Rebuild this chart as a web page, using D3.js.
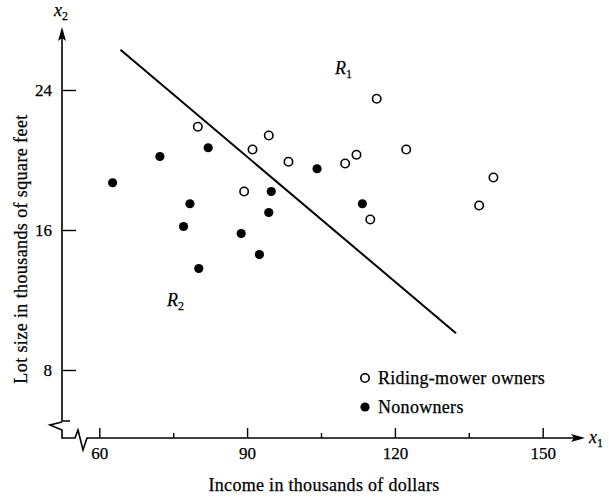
<!DOCTYPE html>
<html>
<head>
<meta charset="utf-8">
<script src="https://cdn.jsdelivr.net/npm/d3@7/dist/d3.min.js"></script>
<style>
  html, body { margin: 0; padding: 0; background: #fff; }
  svg { display: block; }
  text { font-family: "Liberation Serif", "Times New Roman", serif; fill: #000; stroke: #000; stroke-width: 0.25px; }
</style>
</head>
<body>
<svg id="chart" width="609" height="499"></svg>
<script>
// ---- Data (income in $1000s, lot size in 1000 sq ft) ----
const ownerIncome = [80.0, 94.4, 91.1, 98.4, 109.9, 112.2, 122.3, 116.3, 89.4, 115.0, 140.0, 137.1];
const ownerLot    = [21.9, 21.4, 20.6, 19.9, 19.8, 20.3, 20.6, 23.5, 18.2, 16.6, 19.0, 17.4];
const nonIncome   = [62.7, 72.3, 82.1, 78.4, 77.1, 80.2, 88.8, 92.5, 94.4, 94.9, 104.2, 113.4];
const nonLot      = [18.7, 20.2, 20.7, 17.5, 16.2, 13.8, 15.8, 14.6, 17.0, 18.2, 19.5, 17.5];
const boundaryX   = [64.3, 132.4];
const boundaryY   = [26.3, 10.1];
const xTicks      = [60, 90, 120, 150];
const xMinorTicks = [75, 105, 135];
const yTicks      = [8, 16, 24];
const legendLabels = ["Riding-mower owners", "Nonowners"];

const svg = d3.select("#chart");
const x = d3.scaleLinear().domain([60, 150]).range([99.3, 542.7]);
const y = d3.scaleLinear().domain([8, 24]).range([370, 90]);

const axisY = 438;      // pixel row of the x axis
const axisX = 62;       // pixel column of the y axis

// ---- Axes ----
const gx = svg.append("g").attr("transform", `translate(0,${axisY})`)
  .call(d3.axisBottom(x).tickValues(xTicks).tickSize(-10).tickPadding(9).tickSizeOuter(0));
gx.select(".domain").remove();
gx.selectAll("line").attr("stroke", "#000").attr("stroke-width", 1.4);
gx.selectAll("text").attr("font-size", 17).attr("font-family", "Liberation Serif");

const gxm = svg.append("g").attr("transform", `translate(0,${axisY})`)
  .call(d3.axisBottom(x).tickValues(xMinorTicks).tickSize(-5).tickFormat("").tickSizeOuter(0));
gxm.select(".domain").remove();
gxm.selectAll("line").attr("stroke", "#000").attr("stroke-width", 1.4);

const gy = svg.append("g").attr("transform", `translate(${axisX},0)`)
  .call(d3.axisLeft(y).tickValues(yTicks).tickSize(-14).tickPadding(10).tickSizeOuter(0));
gy.select(".domain").remove();
gy.selectAll("line").attr("stroke", "#000").attr("stroke-width", 1.4);
gy.selectAll("text").attr("font-size", 17).attr("font-family", "Liberation Serif");

// axis lines with break marks
const line = d3.line();
const ax = svg.append("g").attr("fill", "none").attr("stroke", "#000").attr("stroke-width", 1.6)
  .attr("stroke-linejoin", "miter");
ax.append("path").attr("d", line([[axisX, 36], [axisX, 421], [axisX + 8, 421]]));
ax.append("path").attr("d", line([[axisX, 422], [axisX - 12, 425], [axisX, 430], [axisX, axisY],
  [axisX + 13, axisY], [axisX + 16, axisY - 8], [axisX + 21, axisY + 12], [axisX + 25, axisY], [576, axisY]]));
// arrow heads
svg.append("path").attr("d", line([[axisX, 27], [axisX - 4, 41], [axisX, 38], [axisX + 4, 41]]) + "Z")
  .attr("fill", "#000");
svg.append("path").attr("d", line([[585, axisY], [571, axisY - 4], [574, axisY], [571, axisY + 4]]) + "Z")
  .attr("fill", "#000");

// axis variable labels
const x2 = svg.append("text").attr("x", axisX - 8).attr("y", 16).attr("font-size", 18);
x2.append("tspan").attr("font-style", "italic").text("x");
x2.append("tspan").attr("font-size", 12).attr("dy", 4).text("2");
const x1 = svg.append("text").attr("x", 589).attr("y", 443).attr("font-size", 18);
x1.append("tspan").attr("font-style", "italic").text("x");
x1.append("tspan").attr("font-size", 12).attr("dy", 4).text("1");

// axis titles
svg.append("text").attr("x", 324).attr("y", 491).attr("text-anchor", "middle")
  .attr("font-size", 18).attr("letter-spacing", 0.3).text("Income in thousands of dollars");
svg.append("text").attr("transform", "translate(27,249) rotate(-90)").attr("text-anchor", "middle")
  .attr("font-size", 18).attr("letter-spacing", 0.4).text("Lot size in thousands of square feet");

// ---- Boundary line ----
svg.append("path")
  .attr("d", line(boundaryX.map((v, i) => [x(v), y(boundaryY[i])])))
  .attr("stroke", "#000").attr("stroke-width", 2).attr("fill", "none");

// ---- Points ----
svg.append("g").selectAll("circle").data(ownerIncome).join("circle")
  .attr("cx", d => x(d)).attr("cy", (d, i) => y(ownerLot[i])).attr("r", 4.2)
  .attr("fill", "#fff").attr("stroke", "#000").attr("stroke-width", 1.6);
svg.append("g").selectAll("circle").data(nonIncome).join("circle")
  .attr("cx", d => x(d)).attr("cy", (d, i) => y(nonLot[i])).attr("r", 4.6)
  .attr("fill", "#000");

// ---- Region labels ----
const r1 = svg.append("text").attr("x", 335).attr("y", 74).attr("font-size", 18);
r1.append("tspan").attr("font-style", "italic").text("R");
r1.append("tspan").attr("font-size", 12).attr("dy", 4).text("1");
const r2 = svg.append("text").attr("x", 167).attr("y", 306).attr("font-size", 18);
r2.append("tspan").attr("font-style", "italic").text("R");
r2.append("tspan").attr("font-size", 12).attr("dy", 4).text("2");

// ---- Legend ----
const lg = svg.append("g");
lg.append("circle").attr("cx", 365).attr("cy", 378).attr("r", 4.2)
  .attr("fill", "#fff").attr("stroke", "#000").attr("stroke-width", 1.6);
lg.append("circle").attr("cx", 365).attr("cy", 407).attr("r", 4.6).attr("fill", "#000");
lg.selectAll("text").data(legendLabels).join("text")
  .attr("x", 378).attr("y", (d, i) => 384 + i * 29).attr("font-size", 18)
  .attr("letter-spacing", 0.3).text(d => d);
</script>
</body>
</html>
